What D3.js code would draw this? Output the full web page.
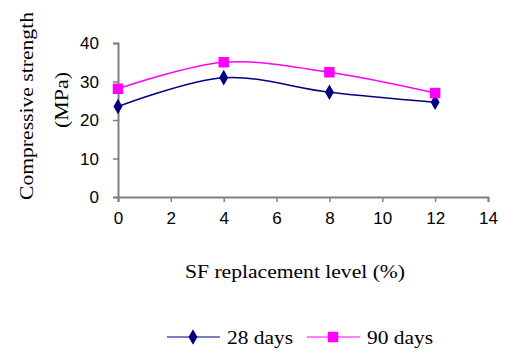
<!DOCTYPE html>
<html>
<head>
<meta charset="utf-8">
<script src="https://cdn.jsdelivr.net/npm/d3@7"></script>
<style>
  html, body { margin: 0; padding: 0; background: #fff; }
  svg { display: block; }
</style>
</head>
<body>
<svg id="chart" width="505" height="352"></svg>
<script>
// SF replacement level (%) and compressive strength (MPa)
const levels = [0, 4, 8, 12];
const days28 = [23.5, 31.0, 27.2, 24.6];
const days90 = [28.1, 35.0, 32.4, 27.0];
const seriesNames = ["28 days", "90 days"];
const xTicks = [0, 2, 4, 6, 8, 10, 12, 14];
const yTicks = [0, 10, 20, 30, 40];

const svg = d3.select("#chart");
const x = d3.scaleLinear().domain([0, 14]).range([118, 488]);
const y = d3.scaleLinear().domain([0, 40]).range([197, 43]);

const axisColor = "#808080";
const sans = "Arial, 'Liberation Sans', sans-serif";
const serif = "'Times New Roman', 'Liberation Serif', serif";

// axes
const gx = svg.append("g").attr("transform", `translate(0,${y(0)})`)
  .call(d3.axisBottom(x).tickValues(xTicks).tickSize(5).tickPadding(10).tickFormat(d3.format("d")));
const gy = svg.append("g").attr("transform", `translate(${x(0)},0)`)
  .call(d3.axisLeft(y).tickValues(yTicks).tickSize(5).tickPadding(14).tickFormat(d3.format("d")));

[gx, gy].forEach(g => {
  g.select(".domain").attr("stroke", axisColor).attr("stroke-width", 2);
  g.selectAll(".tick line").attr("stroke", axisColor).attr("stroke-width", 1.5);
  g.selectAll(".tick text").attr("fill", "#000").style("font-family", sans).style("font-size", "17px");
});
gy.selectAll(".tick text").attr("dy", "0.35em");

// axis titles
svg.append("text")
  .attr("x", 185).attr("y", 278)
  .attr("textLength", 220).attr("lengthAdjust", "spacingAndGlyphs")
  .style("font-family", serif).style("font-size", "19px")
  .text("SF replacement level (%)");

svg.append("text")
  .attr("transform", "translate(33,106) rotate(-90)")
  .attr("x", -94).attr("textLength", 188).attr("lengthAdjust", "spacingAndGlyphs")
  .style("font-family", serif).style("font-size", "19px")
  .text("Compressive strength");
svg.append("text")
  .attr("transform", "translate(68,100) rotate(-90)")
  .attr("x", -28).attr("textLength", 56).attr("lengthAdjust", "spacingAndGlyphs")
  .style("font-family", serif).style("font-size", "19px")
  .text("(MPa)");

// series
const line = d3.line().x(d => x(d[0])).y(d => y(d[1])).curve(d3.curveCatmullRom.alpha(0.5));
const series = [
  { name: seriesNames[0], values: days28, color: "#000080", shape: d3.symbolDiamond, size: 70 },
  { name: seriesNames[1], values: days90, color: "#FF00FF", shape: d3.symbolSquare, size: 110 }
];

series.forEach(s => {
  const pts = levels.map((l, i) => [l, s.values[i]]);
  svg.append("path").datum(pts)
    .attr("fill", "none").attr("stroke", s.color).attr("stroke-width", 1.5)
    .attr("d", line);
  svg.selectAll(null).data(pts).enter().append("path")
    .attr("transform", d => `translate(${x(d[0])},${y(d[1])})`)
    .attr("d", d3.symbol().type(s.shape).size(s.size))
    .attr("fill", s.color);
});

// legend
const legendY = 337;
const legendX = [167, 307];
series.forEach((s, i) => {
  const g = svg.append("g").attr("transform", `translate(${legendX[i]},${legendY})`);
  g.append("line").attr("x1", 0).attr("x2", 53).attr("y1", 0).attr("y2", 0)
    .attr("stroke", s.color).attr("stroke-width", 2).attr("stroke-opacity", 0.5);
  g.append("path").attr("transform", "translate(26,0)")
    .attr("d", d3.symbol().type(s.shape).size(s.size)).attr("fill", s.color);
  g.append("text").attr("x", 60).attr("y", 7)
    .attr("textLength", 66).attr("lengthAdjust", "spacingAndGlyphs")
    .style("font-family", serif).style("font-size", "19px")
    .text(s.name);
});
</script>
</body>
</html>
